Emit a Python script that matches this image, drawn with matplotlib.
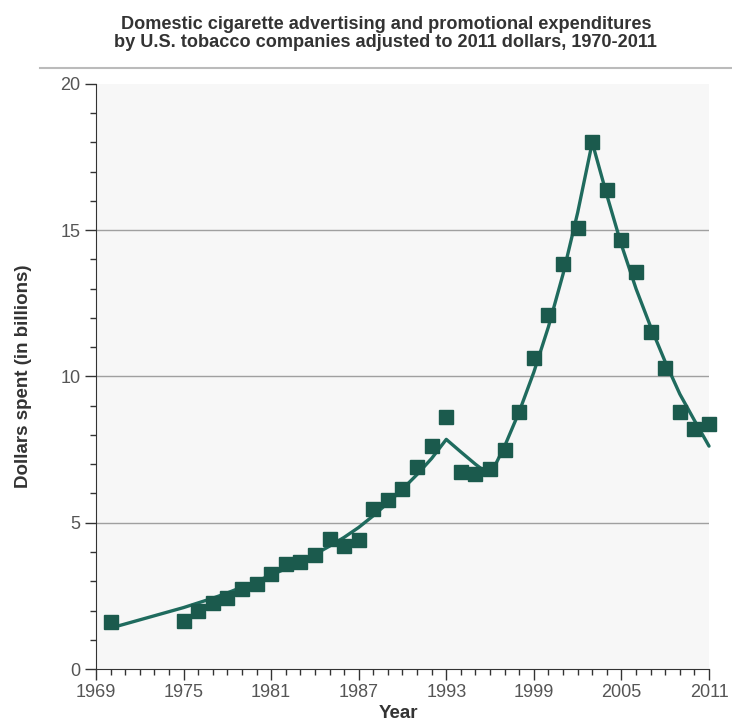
import matplotlib.pyplot as plt
from matplotlib.ticker import MultipleLocator

plt.rcParams['font.family'] = ['Liberation Sans', 'DejaVu Sans']

# observed spending, billions of 2011 dollars
years = [1970, 1975, 1976, 1977, 1978, 1979, 1980, 1981, 1982, 1983, 1984,
         1985, 1986, 1987, 1988, 1989, 1990, 1991, 1992, 1993, 1994, 1995,
         1996, 1997, 1998, 1999, 2000, 2001, 2002, 2003, 2004, 2005, 2006,
         2007, 2008, 2009, 2010, 2011]
spent = [1.62, 1.64, 1.99, 2.26, 2.43, 2.74, 2.91, 3.25, 3.58, 3.66, 3.90,
         4.45, 4.21, 4.40, 5.47, 5.79, 6.16, 6.92, 7.62, 8.62, 6.72, 6.67,
         6.84, 7.48, 8.78, 10.63, 12.09, 13.83, 15.09, 18.00, 16.37, 14.67,
         13.57, 11.52, 10.30, 8.79, 8.21, 8.36]

# fitted trend line
trend = [1.40, 2.10, 2.26, 2.42, 2.60, 2.80, 3.00, 3.21, 3.43, 3.66, 3.92,
         4.20, 4.50, 4.84, 5.24, 5.68, 6.15, 6.65, 7.20, 7.85, 7.42, 7.00,
         6.62, 7.62, 8.80, 10.15, 11.70, 13.50, 15.60, 18.00, 16.20, 14.50,
         13.00, 11.70, 10.50, 9.40, 8.50, 7.62]

xticks = [1969, 1975, 1981, 1987, 1993, 1999, 2005, 2011]

fig = plt.figure(figsize=(7.32, 7.22), dpi=100)
ax = fig.add_axes([0.1311, 0.0734, 0.8375, 0.8103])
ax.set_facecolor('#f7f7f7')

for v in [5, 10, 15]:
    ax.axhline(v, color='#a0a0a0', lw=1, zorder=1)

ax.plot(years, trend, color='#1f6b5e', lw=2.4, zorder=2,
        solid_capstyle='round', clip_on=False)
ax.plot(years, spent, 's', color='#1b5a4d', markersize=9.5, zorder=3, clip_on=False)

ax.set_xlim(1969, 2011)
ax.set_ylim(0, 20)
ax.set_xticks(xticks)
ax.set_yticks([0, 5, 10, 15, 20])
ax.xaxis.set_minor_locator(MultipleLocator(1))
ax.yaxis.set_minor_locator(MultipleLocator(1))
ax.tick_params(which='major', length=8, width=1, color='#333333',
               labelsize=13, labelcolor='#555555', pad=3)
ax.tick_params(which='minor', length=4, width=1, color='#333333')

for s in ['top', 'right']:
    ax.spines[s].set_visible(False)
for s in ['left', 'bottom']:
    ax.spines[s].set_color('#333333')

ax.set_xlabel('Year', fontsize=13.5, fontweight='bold', color='#333333')
ax.xaxis.set_label_coords(0.493, -0.062)
ax.set_ylabel('Dollars spent (in billions)', fontsize=13.5, fontweight='bold',
              color='#333333')
ax.yaxis.set_label_coords(-0.104, 0.5)

fig.text(0.527, 0.978, 'Domestic cigarette advertising and promotional expenditures\n'
         'by U.S. tobacco companies adjusted to 2011 dollars, 1970-2011',
         ha='center', va='top', fontsize=13.1, fontweight='bold', color='#333333',
         linespacing=1.12)
fig.add_artist(plt.Line2D([0.055, 1.0], [0.906, 0.906], color='#bbbbbb', lw=1.5))

fig.savefig('out.png', dpi=100)
